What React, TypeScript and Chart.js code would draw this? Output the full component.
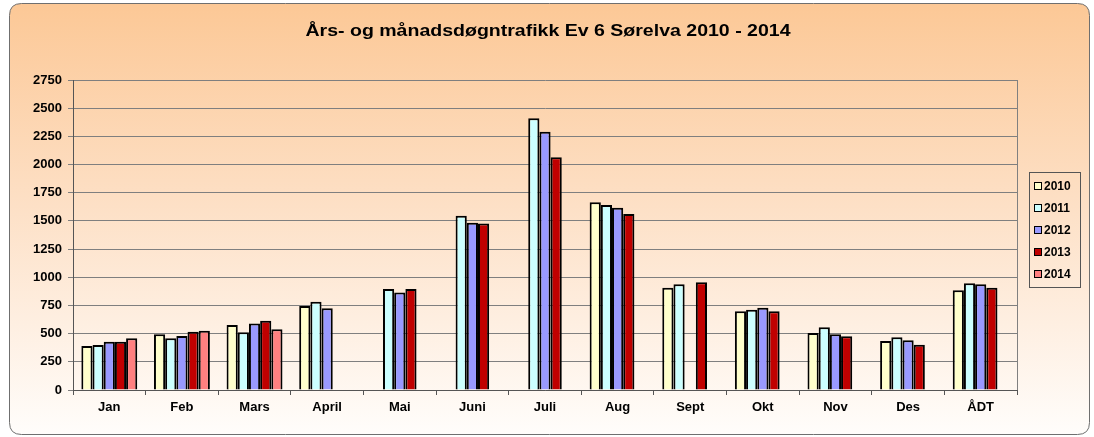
import React, { useEffect, useRef } from "react";
import { Chart, registerables } from "chart.js";

Chart.register(...registerables);

const categories = ["Jan", "Feb", "Mars", "April", "Mai", "Juni", "Juli", "Aug", "Sept", "Okt", "Nov", "Des", "ÅDT"];
const seriesLabels = ["2010", "2011", "2012", "2013", "2014"];
const values2010 = [390, 494, 577, 745, null, null, null, 1665, 908, 698, 505, 434, 884];
const values2011 = [399, 458, 512, 783, 896, 1546, 2410, 1641, 937, 713, 556, 467, 946];
const values2012 = [429, 479, 591, 725, 866, 1484, 2292, 1617, null, 730, 494, 441, 937];
const values2013 = [429, 517, 615, null, 896, 1478, 2064, 1561, 955, 698, 476, 402, 908];
const values2014 = [458, 526, 538, null, null, null, null, null, null, null, null, null, null];
const yTicks = [0, 250, 500, 750, 1000, 1250, 1500, 1750, 2000, 2250, 2500, 2750];
const seriesColors = ["#FFFFCC", "#CCFFFF", "#9999FF", "#C00000", "#FF8080"];
const titleText = "Års- og månadsdøgntrafikk Ev 6 Sørelva 2010 - 2014";

const FONT = "'Liberation Sans', Arial, sans-serif";

const bgPlugin = {
  id: "bgPlugin",
  beforeDraw(chart: any) {
    const ctx = chart.ctx;
    const x = 9.5, y = 3.5, w = 1080, h = 431, r = 12;
    ctx.save();
    const g = ctx.createLinearGradient(0, y, 0, y + h);
    g.addColorStop(0, "#FCC896");
    g.addColorStop(0.45, "#FDDFC4");
    g.addColorStop(1, "#FFFDFB");
    ctx.beginPath();
    ctx.moveTo(x + r, y);
    ctx.lineTo(x + w - r, y);
    ctx.quadraticCurveTo(x + w, y, x + w, y + r);
    ctx.lineTo(x + w, y + h - r);
    ctx.quadraticCurveTo(x + w, y + h, x + w - r, y + h);
    ctx.lineTo(x + r, y + h);
    ctx.quadraticCurveTo(x, y + h, x, y + h - r);
    ctx.lineTo(x, y + r);
    ctx.quadraticCurveTo(x, y, x + r, y);
    ctx.closePath();
    ctx.fillStyle = g;
    ctx.fill();
    ctx.strokeStyle = "#6f6f6f";
    ctx.lineWidth = 1;
    ctx.stroke();
    ctx.restore();
  },
  afterDraw(chart: any) {
    const ctx = chart.ctx;
    const a = chart.chartArea;
    ctx.save();
    // title, horizontally stretched like the original
    ctx.font = "bold 17px " + FONT;
    ctx.fillStyle = "#000";
    ctx.textAlign = "center";
    ctx.textBaseline = "middle";
    const tw = ctx.measureText(titleText).width;
    const sx = 485 / tw;
    ctx.save();
    ctx.translate(548, 31);
    ctx.scale(sx, 1);
    ctx.fillText(titleText, 0, 0);
    ctx.restore();
    // right border of plot area
    ctx.strokeStyle = "#808080";
    ctx.lineWidth = 1;
    ctx.beginPath();
    ctx.moveTo(Math.round(a.right) + 0.5, a.top);
    ctx.lineTo(Math.round(a.right) + 0.5, a.bottom);
    ctx.stroke();
    // legend
    const lx = 1029.5, ly = 172.5, lw = 51, lh = 115;
    ctx.strokeStyle = "#555555";
    ctx.strokeRect(lx, ly, lw, lh);
    ctx.font = "bold 12px " + FONT;
    ctx.textBaseline = "middle";
    ctx.textAlign = "left";
    chart.data.datasets.forEach((ds: any, i: number) => {
      const cy = 186 + i * 22;
      ctx.fillStyle = ds.backgroundColor;
      ctx.fillRect(1035, cy - 3, 6, 6);
      ctx.strokeStyle = "#000";
      ctx.strokeRect(1034.5, cy - 3.5, 7, 7);
      ctx.fillStyle = "#000";
      ctx.fillText(ds.label, 1044, cy + 0.5);
    });
    ctx.restore();
  },
};

export default function App() {
  const ref = useRef<HTMLCanvasElement | null>(null);
  useEffect(() => {
    document.body.style.margin = "0";
    const allValues = [values2010, values2011, values2012, values2013, values2014];
    const chart = new Chart(ref.current as HTMLCanvasElement, {
      type: "bar",
      data: {
        labels: categories,
        datasets: seriesLabels.map((label, i) => ({
          label,
          data: allValues[i],
          backgroundColor: seriesColors[i],
          borderColor: "#000000",
          borderWidth: 2,
          barPercentage: 1,
          categoryPercentage: 0.77,
        })),
      },
      options: {
        responsive: false,
        animation: false,
        devicePixelRatio: 1,
        layout: { padding: { left: 0, right: 77, top: 80, bottom: 0 } },
        plugins: {
          legend: { display: false },
          tooltip: { enabled: false },
          title: { display: false },
        },
        scales: {
          x: {
            grid: { drawOnChartArea: false, drawTicks: true, tickLength: 5, offset: true, color: "#555555" },
            border: { color: "#555555", width: 1 },
            ticks: { color: "#000", font: { family: FONT, size: 13, weight: "bold" }, padding: 5, maxRotation: 0 },
            afterFit: (s: any) => { s.height = 47; },
          },
          y: {
            min: 0,
            max: 2750,
            afterBuildTicks: (s: any) => { s.ticks = yTicks.map((v) => ({ value: v })); },
            grid: { color: "#7f7f7f", lineWidth: 1, drawTicks: true, tickLength: 5 },
            border: { color: "#555555", width: 1 },
            ticks: {
              color: "#000",
              font: { family: FONT, size: 13, weight: "bold" },
              padding: 6,
              callback: (v: any) => String(v),
            },
            afterFit: (s: any) => { s.width = 73; },
          },
        },
      },
      plugins: [bgPlugin],
    } as any);
    return () => chart.destroy();
  }, []);
  return (
    <div style={{ position: "absolute", left: 0, top: 0, width: 1094, height: 437 }}>
      <canvas ref={ref} width={1094} height={437} style={{ width: 1094, height: 437 }} />
    </div>
  );
}
